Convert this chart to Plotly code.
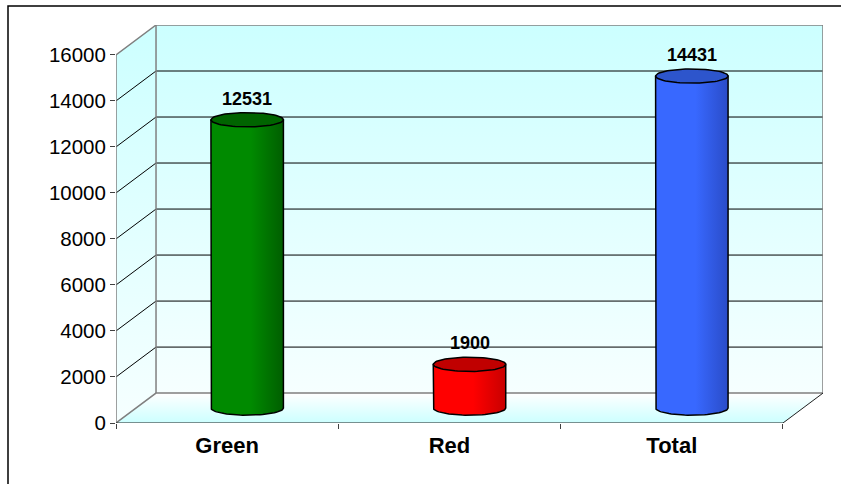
import numpy as np
import plotly.graph_objects as go

# ---- data ----
categories = ["Green", "Red", "Total"]
values = [12531, 1900, 14431]
y_ticks = [0, 2000, 4000, 6000, 8000, 10000, 12000, 14000, 16000]
y_tick_text = ["0", "2000", "4000", "6000", "8000", "10000", "12000", "14000", "16000"]
y_max = 16000

# ---- styles ----
body_left = ["#008A00", "#FF0000", "#3868FF"]
body_right = ["#005E00", "#C80000", "#2A4CC8"]
top_colors = ["#006400", "#C00000", "#2D55CC"]
W, H = 841, 484
X0_PX, X1_PX, Y0_PX, Y1_PX = 116, 823, 423, 25
DX = 0.18      # depth offset in category units (≈40px)
DY = 1300      # depth offset in value units (≈30px)
HALF_W = 0.163 # cylinder half width (category units)
RY = 310       # ellipse vertical radius (value units)

n = len(categories)
xl, xr = -0.5, n - 0.5

fig = go.Figure()

def poly(xs, ys, scale, gtype="vertical"):
    fig.add_trace(go.Scatter(
        x=xs, y=ys, mode="lines", fill="toself",
        fillgradient=dict(type=gtype, colorscale=scale),
        line=dict(width=0), hoverinfo="skip", showlegend=False))

# back wall
poly([xl + DX, xr + DX, xr + DX, xl + DX, xl + DX],
     [DY, DY, y_max + DY, y_max + DY, DY],
     [[0, "#F6FFFF"], [1, "#CCFFFF"]])
# side wall
poly([xl, xl + DX, xl + DX, xl, xl],
     [0, DY, y_max + DY, y_max, 0],
     [[0, "#F6FFFF"], [1, "#CCFFFF"]])
# floor
poly([xl, xr, xr + DX, xl + DX, xl],
     [0, 0, DY, DY, 0],
     [[0, "#CCFFFF"], [1, "#FFFFFF"]])

# gridlines (black) on back wall + side wall
gx, gy = [], []
for v in y_ticks[1:-1]:
    gx += [xl, xl + DX, xr + DX, None]
    gy += [v, v + DY, v + DY, None]
fig.add_trace(go.Scatter(x=gx, y=gy, mode="lines",
                         line=dict(color="#000000", width=1),
                         hoverinfo="skip", showlegend=False))

# gray frame edges
fx = [xl, xl + DX, xr + DX, None,
      xl, xl + DX, xr + DX, xr + DX, None,
      xl + DX, xl + DX, None,
      xl, xl]
fy = [0, DY, DY, None,
      y_max, y_max + DY, y_max + DY, DY, None,
      DY, y_max + DY, None,
      0, y_max]
fig.add_trace(go.Scatter(x=fx, y=fy, mode="lines",
                         line=dict(color="#808080", width=1.5),
                         hoverinfo="skip", showlegend=False))
# floor front & right edges (dark)
fig.add_trace(go.Scatter(x=[xl, xr, xr + DX], y=[0, 0, DY], mode="lines",
                         line=dict(color="#202020", width=1),
                         hoverinfo="skip", showlegend=False))

# cylinders
t = np.linspace(0, np.pi, 40)
tf = np.linspace(0, 2 * np.pi, 80)
for i, v in enumerate(values):
    cx = i + DX / 2
    base = DY / 2
    top = v + DY / 2
    bx = np.concatenate([[cx - HALF_W], cx - HALF_W * np.cos(t), [cx + HALF_W, cx - HALF_W]])
    by = np.concatenate([[top], base - RY * np.sin(t), [top, top]])
    fig.add_trace(go.Scatter(
        x=bx, y=by, mode="lines", fill="toself",
        fillgradient=dict(type="horizontal",
                          colorscale=[[0, body_left[i]], [0.55, body_left[i]], [1, body_right[i]]]),
        line=dict(color="#000000", width=1.5), hoverinfo="skip", showlegend=False))
    fig.add_trace(go.Scatter(
        x=cx + HALF_W * np.cos(tf), y=top + RY * np.sin(tf), mode="lines",
        fill="toself", fillcolor=top_colors[i],
        line=dict(color="#000000", width=1.5), hoverinfo="skip", showlegend=False))
    fig.add_annotation(x=cx, y=top, text=f"{v}", showarrow=False,
                       yanchor="bottom", yshift=9,
                       font=dict(family="Liberation Sans, Arial", size=18,
                                 color="#000000", weight="bold"))

# dummy trace for boundary-tick axis
fig.add_trace(go.Scatter(x=[xl], y=[0], xaxis="x2", mode="markers",
                         marker=dict(opacity=0), hoverinfo="skip", showlegend=False))

xdom = [X0_PX / W, X1_PX / W]
ydom = [1 - Y0_PX / H, 1 - Y1_PX / H]
fig.update_layout(
    width=W, height=H, margin=dict(l=0, r=0, t=0, b=0, pad=0),
    paper_bgcolor="white", plot_bgcolor="white",
    font=dict(family="Liberation Sans, Arial", color="#000000"),
    xaxis=dict(domain=xdom, range=[xl, xr + DX], tickvals=list(range(n)),
               ticktext=categories, ticks="", showgrid=False, zeroline=False,
               showline=False, ticklabelstandoff=7, automargin=False,
               tickfont=dict(size=22, weight="bold")),
    xaxis2=dict(domain=xdom, range=[xl, xr + DX], overlaying="x", anchor="y",
                tickvals=[xl + k for k in range(n + 1)], ticks="outside",
                ticklen=5, tickcolor="#404040", showticklabels=False,
                showgrid=False, zeroline=False, showline=False, automargin=False),
    yaxis=dict(domain=ydom, range=[0, y_max + DY], tickvals=y_ticks,
               ticktext=y_tick_text,
               ticks="outside", ticklen=5, tickcolor="#404040",
               showgrid=False, zeroline=False, showline=False, automargin=False,
               tickfont=dict(size=20.5)),
    shapes=[dict(type="rect", xref="paper", yref="paper",
                 x0=8 / W, x1=1.05, y0=-0.05, y1=1 - 6 / H,
                 line=dict(color="#000000", width=1.5))],
)

fig.write_html("out.html")
